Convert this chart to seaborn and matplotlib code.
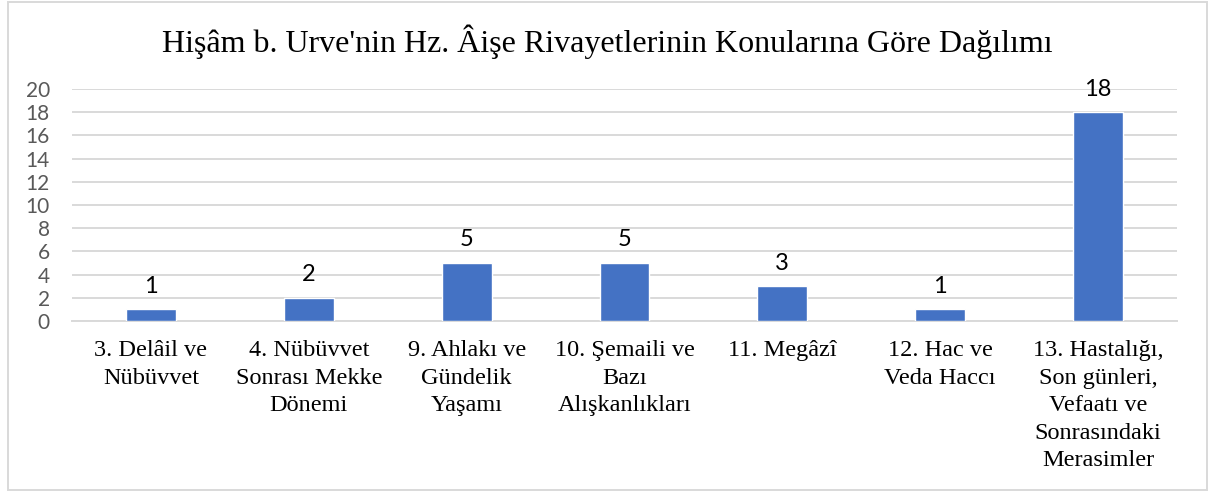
import matplotlib
matplotlib.use("Agg")
import matplotlib.pyplot as plt
import seaborn as sns
import pandas as pd
from matplotlib.patches import Rectangle

# Topic categories and the number of narrations in each
categories = [
    "3. Delâil ve\nNübüvvet",
    "4. Nübüvvet\nSonrası Mekke\nDönemi",
    "9. Ahlakı ve\nGündelik\nYaşamı",
    "10. Şemaili ve\nBazı\nAlışkanlıkları",
    "11. Megâzî",
    "12. Hac ve\nVeda Haccı",
    "13. Hastalığı,\nSon günleri,\nVefaatı ve\nSonrasındaki\nMerasimler",
]
counts = [1, 2, 5, 5, 3, 1, 18]
y_ticks = [0, 2, 4, 6, 8, 10, 12, 14, 16, 18, 20]
title = "Hişâm b. Urve'nin Hz. Âişe Rivayetlerinin Konularına Göre Dağılımı"

df = pd.DataFrame({"konu": categories, "sayi": counts})

sns.set_theme(style="white")
serif = ["Liberation Serif", "DejaVu Serif"]
sans = ["Lato", "DejaVu Sans"]

fig = plt.figure(figsize=(12.15, 4.92), dpi=100)
ax = fig.add_axes([0.0593, 0.3476, 0.9094, 0.4715])

sns.barplot(data=df, x="konu", y="sayi", color="#4472C4", saturation=1,
            width=0.316, ax=ax, zorder=3)

ax.set_ylim(0, 20)
ax.set_yticks(y_ticks)
ax.set_yticklabels([str(v) for v in y_ticks], family=sans, fontsize=15,
                   color="#595959")
ax.set_xticks(range(len(categories)))
ax.set_xticklabels(categories, family=serif, fontsize=17.5, color="black",
                   linespacing=1.4, va="top")
ax.tick_params(axis="x", length=0, pad=14)
ax.tick_params(axis="y", length=0, pad=16)
ax.set_xlabel("")
ax.set_ylabel("")

ax.grid(axis="y", color="#D9D9D9", linewidth=1.4, zorder=0)
ax.set_axisbelow(True)
for s in ["top", "right", "left"]:
    ax.spines[s].set_visible(False)
ax.spines["bottom"].set_color("#D9D9D9")
ax.spines["bottom"].set_linewidth(1.4)
ax.set_xlim(-0.5, len(categories) - 0.5)

# value labels above each bar
for container in ax.containers:
    ax.bar_label(container, labels=[str(v) for v in counts], padding=9,
                 family=sans, fontsize=17, color="black")

fig.text(0.5, 0.915, title, ha="center", va="center", family=serif,
         fontsize=23, color="black")

# light frame around the chart area
fig.patches.append(Rectangle((8 / 1215, 2 / 492), 1199 / 1215, 488 / 492,
                             transform=fig.transFigure, fill=False,
                             edgecolor="#D9D9D9", linewidth=1.4))

fig.savefig("out.png", dpi=100, facecolor="white")
